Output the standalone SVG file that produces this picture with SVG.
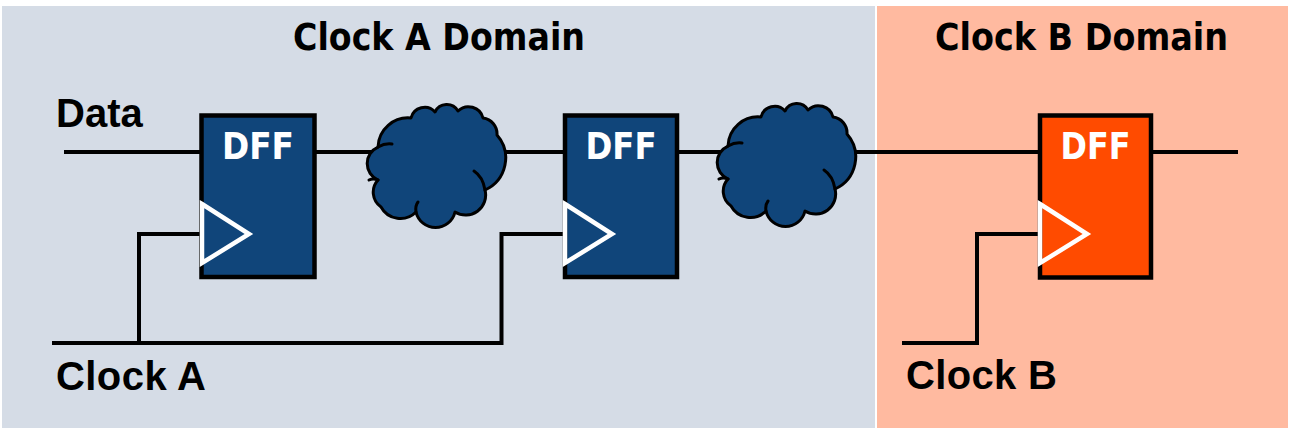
<svg xmlns="http://www.w3.org/2000/svg" width="1290" height="431" viewBox="0 0 1290 431">
  <style>
    .wire { fill: none; stroke: #000; stroke-width: 4; stroke-linejoin: miter; }
    .dffA { fill: #10457A; stroke: #000; stroke-width: 4.5; }
    .dffB { fill: #FF4B00; stroke: #000; stroke-width: 4.5; }
    .clk { fill: none; stroke: #fff; stroke-width: 4.5; stroke-linejoin: miter; }
    .dfft { font-family: "DejaVu Sans Condensed", "DejaVu Sans", sans-serif; font-weight: bold; font-size: 37px; fill: #fff; text-anchor: middle; }
    .title { font-family: "DejaVu Sans Condensed", "DejaVu Sans", sans-serif; font-weight: bold; font-size: 37px; fill: #000; text-anchor: middle; }
    .lbl { font-family: "Liberation Sans", Arial, sans-serif; font-weight: bold; font-size: 40px; fill: #000; }
    .cloud { fill: #10457A; stroke: #000; stroke-width: 3; stroke-linejoin: round; }
    .crease { fill: none; stroke: #000; stroke-width: 3; stroke-linecap: round; }
  </style>
  <defs>
    <g id="cloudShape">
      <path class="cloud" d="M13,42 A30,30 0 0 1 46,13 A14,14 0 0 1 70,7 A13,13 0 0 1 93,6 A15,15 0 0 1 118,13 A16,16 0 0 1 132,30 A35,35 0 0 1 120,85 A20,20 0 0 1 90,107 A20,20 0 0 1 51,107 A22,22 0 0 1 16,102 A18,18 0 0 1 13,75 A18,18 0 0 1 13,42 Z"/>
      <path class="crease" d="M13,42 Q20,38 27,39 M13,75 Q8,73 4,75 M120,85 Q118,72 109,66 M51,107 Q50,101 53,97"/>
    </g>
  </defs>

  <g id="background">
    <rect x="0" y="0" width="1290" height="431" fill="#fff"/>
    <rect id="domainA" x="2" y="6" width="873" height="422" fill="#D5DCE6"/>
    <rect id="domainB" x="877" y="6" width="411" height="422" fill="#FFBAA0"/>
  </g>

  <g id="titles">
    <text class="title" x="439" y="50" textLength="292" lengthAdjust="spacingAndGlyphs">Clock A Domain</text>
    <text class="title" x="1081.5" y="50" textLength="293" lengthAdjust="spacingAndGlyphs">Clock B Domain</text>
  </g>

  <g id="connectors">
    <polyline class="wire" points="64,152 1238,152"/>
    <polyline class="wire" points="52,343 501.5,343 501.5,234 565,234"/>
    <polyline class="wire" points="139,343 139,234 201,234"/>
    <polyline class="wire" points="902,343 977,343 977,234 1040,234"/>
  </g>

  <g id="dff1">
    <rect class="dffA" x="201.5" y="115.5" width="113" height="161.5"/>
    <text class="dfft" x="258" y="159" textLength="72" lengthAdjust="spacingAndGlyphs">DFF</text>
    <polygon class="clk" points="202,204 249,234 202,263"/>
  </g>

  <g id="cloud1">
    <use href="#cloudShape" transform="translate(365,105)"/>
  </g>

  <g id="dff2">
    <rect class="dffA" x="565" y="115.5" width="112" height="161.5"/>
    <text class="dfft" x="621" y="159" textLength="71" lengthAdjust="spacingAndGlyphs">DFF</text>
    <polygon class="clk" points="565,204 612,234 565,263"/>
  </g>

  <g id="cloud2">
    <use href="#cloudShape" transform="translate(715,104)"/>
  </g>

  <g id="dff3">
    <rect class="dffB" x="1040" y="115.5" width="111" height="162"/>
    <text class="dfft" x="1095.5" y="158.5" textLength="70" lengthAdjust="spacingAndGlyphs">DFF</text>
    <polygon class="clk" points="1040,204 1087,234 1040,263"/>
  </g>

  <g id="labels">
    <text class="lbl" x="56" y="127">Data</text>
    <text class="lbl" x="56" y="390" textLength="150">Clock A</text>
    <text class="lbl" x="906" y="389" textLength="151">Clock B</text>
  </g>
</svg>
